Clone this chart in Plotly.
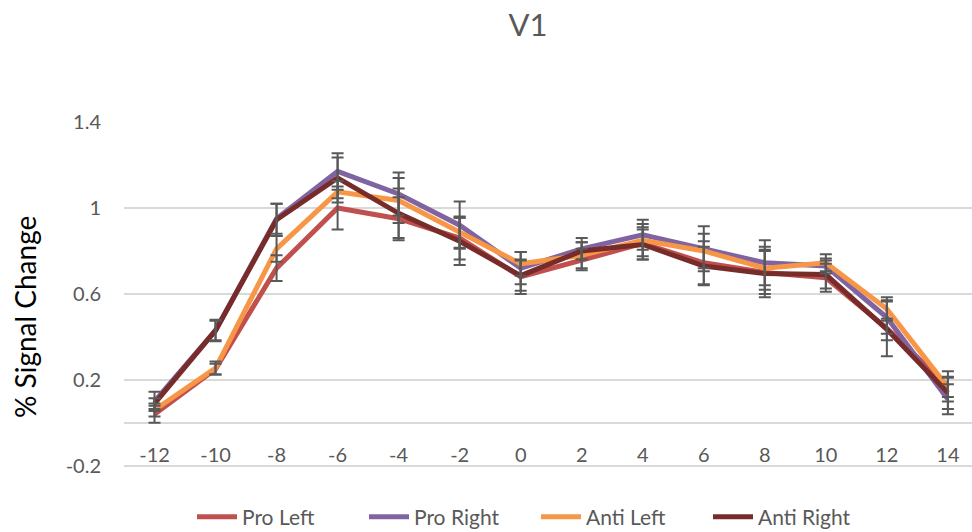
import plotly.graph_objects as go

# Time points (s) relative to stimulus onset
time_points = [-12, -10, -8, -6, -4, -2, 0, 2, 4, 6, 8, 10, 12, 14]

# Mean % signal change per condition
pro_left = [0.04, 0.25, 0.72, 1.00, 0.95, 0.86, 0.68, 0.76, 0.835, 0.745, 0.70, 0.675, 0.44, 0.17]
pro_right = [0.10, 0.43, 0.95, 1.17, 1.065, 0.92, 0.72, 0.81, 0.875, 0.81, 0.745, 0.73, 0.49, 0.11]
anti_left = [0.06, 0.255, 0.81, 1.075, 1.035, 0.885, 0.74, 0.78, 0.85, 0.80, 0.72, 0.745, 0.53, 0.165]
anti_right = [0.09, 0.43, 0.945, 1.14, 0.975, 0.845, 0.685, 0.80, 0.83, 0.73, 0.695, 0.69, 0.435, 0.14]

# Standard errors per condition
pro_left_err = [0.04, 0.025, 0.06, 0.10, 0.10, 0.10, 0.08, 0.05, 0.075, 0.10, 0.10, 0.065, 0.13, 0.07]
pro_right_err = [0.045, 0.045, 0.07, 0.085, 0.10, 0.11, 0.075, 0.05, 0.07, 0.105, 0.105, 0.035, 0.075, 0.07]
anti_left_err = [0.03, 0.03, 0.06, 0.05, 0.105, 0.07, 0.055, 0.06, 0.075, 0.08, 0.10, 0.04, 0.055, 0.045]
anti_right_err = [0.025, 0.05, 0.075, 0.095, 0.115, 0.11, 0.07, 0.04, 0.07, 0.09, 0.11, 0.065, 0.05, 0.075]

series_names = ["Pro Left", "Pro Right", "Anti Left", "Anti Right"]
series_values = [pro_left, pro_right, anti_left, anti_right]
series_errors = [pro_left_err, pro_right_err, anti_left_err, anti_right_err]
series_colors = ["#C0504D", "#8064A2", "#F79646", "#772C2A"]

y_ticks = [-0.2, 0.2, 0.6, 1.0, 1.4]
y_ticktext = ["-0.2", "0.2", "0.6", "1", "1.4"]
y_range = [-0.21, 1.4]

FONT = "Lato, 'Open Sans', sans-serif"
GREY_TEXT = "#595959"
GRID = "#D9D9D9"

fig = go.Figure()

# Condition lines
for name, vals, color in zip(series_names, series_values, series_colors):
    fig.add_trace(go.Scatter(
        x=time_points, y=vals, name=name, mode="lines",
        line=dict(color=color, width=5),
    ))

# Error bars drawn above all lines
for name, vals, errs in zip(series_names, series_values, series_errors):
    fig.add_trace(go.Scatter(
        x=time_points, y=vals, mode="markers", showlegend=False, hoverinfo="skip",
        marker=dict(size=1, color="rgba(0,0,0,0)"),
        error_y=dict(type="data", array=errs, visible=True,
                     color=GREY_TEXT, thickness=2, width=6),
    ))

# Horizontal axis sits on y = 0
x_axis_pos = (0 - y_range[0]) / (y_range[1] - y_range[0])

fig.update_layout(
    width=972, height=532,
    margin=dict(l=124, r=0, t=122, b=64, autoexpand=False),
    paper_bgcolor="white", plot_bgcolor="white",
    font=dict(family=FONT, color=GREY_TEXT),
    title=dict(text="V1", x=528 / 972, xref="container", xanchor="center",
               y=1 - 25 / 532, yref="container", yanchor="middle",
               font=dict(size=31, color=GREY_TEXT, family=FONT)),
    showlegend=True,
    legend=dict(orientation="h", xref="container", yref="container",
                x=192 / 972, xanchor="left", y=1 - 517 / 532, yanchor="middle",
                font=dict(size=21, color=GREY_TEXT, family=FONT),
                entrywidth=117, entrywidthmode="pixels",
                itemwidth=40, tracegroupgap=0),
    xaxis=dict(
        range=[-13, 14.79],
        tickmode="array", tickvals=time_points,
        ticktext=[str(t) for t in time_points],
        showgrid=False, zeroline=False, showline=False,
        anchor="free", position=x_axis_pos,
        ticks="outside", ticklen=14, tickcolor="rgba(0,0,0,0)",
        tickfont=dict(size=20, color=GREY_TEXT, family=FONT),
    ),
    yaxis=dict(
        range=y_range,
        tickmode="array", tickvals=y_ticks, ticktext=y_ticktext,
        showgrid=True, gridcolor=GRID, gridwidth=1.5,
        zeroline=True, zerolinecolor=GRID, zerolinewidth=1.5,
        showline=False,
        ticks="outside", ticklen=18, tickcolor="rgba(0,0,0,0)",
        tickfont=dict(size=20, color=GREY_TEXT, family=FONT),
    ),
    annotations=[dict(
        text="% Signal Change", textangle=-90,
        xref="paper", yref="paper",
        x=(25 - 124) / 848, y=(468 - 317) / 346,
        xanchor="center", yanchor="middle", showarrow=False,
        font=dict(size=28, color="black", family=FONT),
    )],
)

fig.write_html("out.html")
